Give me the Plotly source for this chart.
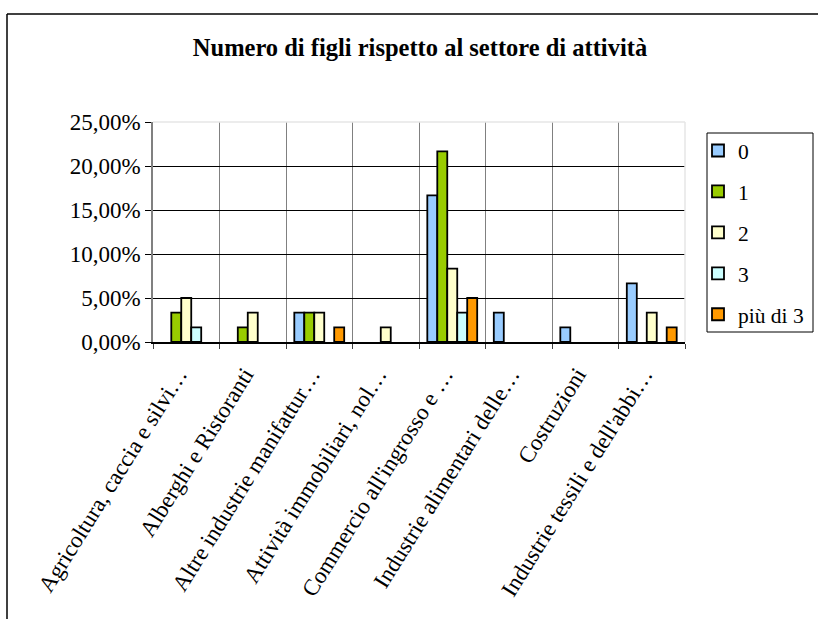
import plotly.graph_objects as go

# Settori di attività (etichette abbreviate come nel foglio di origine)
settori = [
    "Agricoltura, caccia e silvi…",
    "Alberghi e Ristoranti",
    "Altre industrie manifattur…",
    "Attività immobiliari, nol…",
    "Commercio all'ingrosso e …",
    "Industrie alimentari delle…",
    "Costruzioni",
    "Industrie tessili e dell'abbi…",
]

# Quota di intervistati per numero di figli (None = nessun intervistato)
figli_0 = [None, None, 0.0333, None, 0.1667, 0.0333, 0.0167, 0.0667]
figli_1 = [0.0333, 0.0167, 0.0333, None, 0.2167, None, None, None]
figli_2 = [0.05, 0.0333, 0.0333, 0.0167, 0.0833, None, None, 0.0333]
figli_3 = [0.0167, None, None, None, 0.0333, None, None, None]
figli_piu_3 = [None, None, 0.0167, None, 0.05, None, None, 0.0167]

serie = [
    ("0", figli_0, "#99CCFF"),
    ("1", figli_1, "#99CC00"),
    ("2", figli_2, "#FFFFCC"),
    ("3", figli_3, "#CCFFFF"),
    ("più di 3", figli_piu_3, "#FF9900"),
]

FONT = "Liberation Serif, Times New Roman, serif"

fig = go.Figure()
for nome, valori, colore in serie:
    fig.add_trace(go.Bar(
        name=nome,
        x=settori,
        y=valori,
        legendgroup=nome,
        marker=dict(color=colore, line=dict(color="black", width=1.8)),
    ))

# plot area geometry in pixels, used to place frame decorations in paper units
W, H = 818, 619
L, R, T, B = 153, 685, 122, 342


def px_x(p):
    return (p - L) / (R - L)


def px_y(p):
    return (B - p) / (B - T)


shapes = [
    # outer chart frame (left and top edges)
    dict(type="line", xref="paper", yref="paper", x0=px_x(7), x1=px_x(7),
         y0=px_y(14), y1=px_y(640), line=dict(color="black", width=1.5)),
    dict(type="line", xref="paper", yref="paper", x0=px_x(7), x1=px_x(840),
         y0=px_y(14), y1=px_y(14), line=dict(color="black", width=1.5)),
    # light plot-area border on top and right
    dict(type="line", xref="paper", yref="paper", x0=0, x1=1, y0=1, y1=1,
         line=dict(color="#E6E6E6", width=1.5), layer="above"),
    dict(type="line", xref="paper", yref="paper", x0=1, x1=1, y0=0, y1=1,
         line=dict(color="#E6E6E6", width=1.5), layer="above"),
    # legend box
    dict(type="rect", xref="paper", yref="paper", x0=px_x(707), x1=px_x(813),
         y0=px_y(332), y1=px_y(133), line=dict(color="black", width=1)),
]

fig.update_layout(
    width=W, height=H,
    margin=dict(l=L, r=W - R, t=T, b=H - B, autoexpand=False),
    paper_bgcolor="white", plot_bgcolor="white",
    separators=",.",
    font=dict(family=FONT, color="black", size=20),
    title=dict(
        text="<b>Numero di figli rispetto al settore di attività</b>",
        x=420 / W, xanchor="center", y=1 - 47 / H, yanchor="middle",
        font=dict(family=FONT, size=24.5, color="black"),
    ),
    barmode="group", bargap=0.25, bargroupgap=0,
    legend=dict(
        x=px_x(698), xanchor="left", y=px_y(130), yanchor="top",
        bgcolor="rgba(0,0,0,0)", borderwidth=0,
        font=dict(family=FONT, size=21.5, color="black"),
        tracegroupgap=10,
    ),
    xaxis=dict(
        type="category", tickson="boundaries", ticks="outside", ticklen=5,
        tickcolor="#404040", tickangle=-58,
        ticklabelstandoff=8, ticklabelshift=-8,
        showline=True, linecolor="black", linewidth=2,
        showgrid=True, gridcolor="#808080", gridwidth=1,
        tickfont=dict(family=FONT, size=23, color="black"),
    ),
    yaxis=dict(
        range=[0, 0.25], dtick=0.05, tickformat=".2%",
        ticks="outside", ticklen=6, tickcolor="black",
        showline=True, linecolor="#808080", linewidth=1.5,
        showgrid=True, gridcolor="black", gridwidth=1, zeroline=False,
        tickfont=dict(family=FONT, size=23, color="black"),
    ),
    shapes=shapes,
)

fig.write_html("out.html")
